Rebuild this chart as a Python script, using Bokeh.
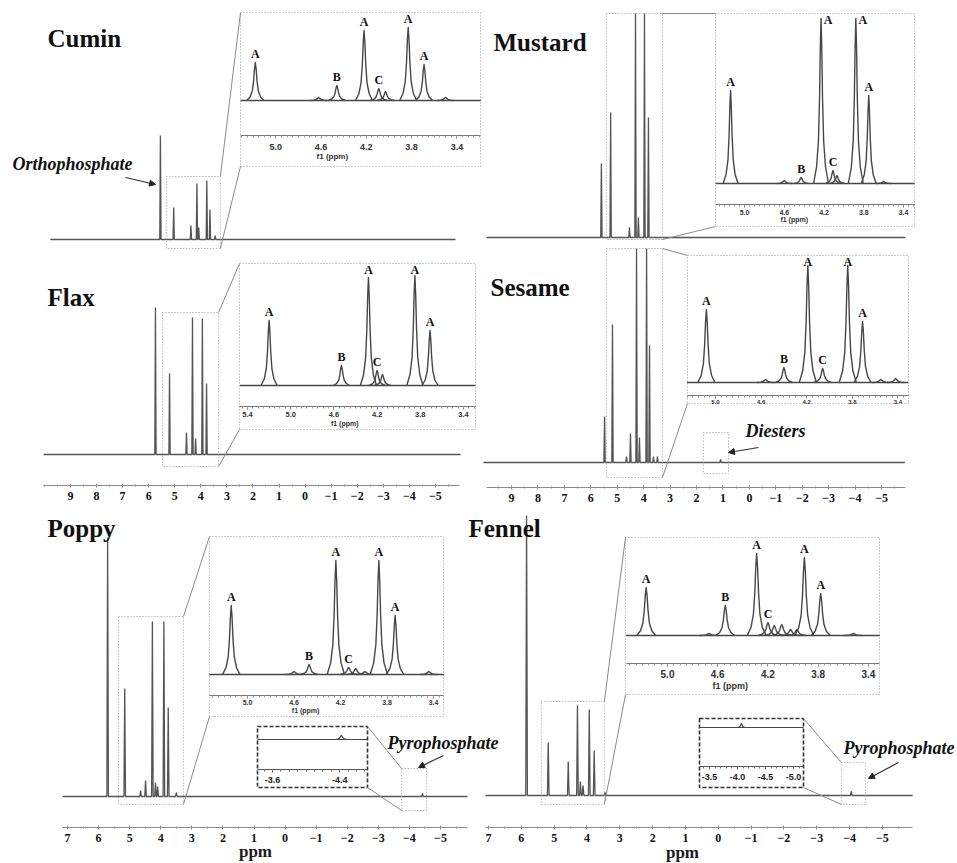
from bokeh.plotting import figure
from bokeh.models import Range1d, LinearAxis, FixedTicker, PrintfTickFormatter, Arrow, NormalHead
from bokeh.core.properties import value
from bokeh.embed import file_html
from bokeh.resources import INLINE

# ------------------------------------------------------------------
# DATA  (31P NMR: chemical shift in ppm, peak intensity in a.u.)
# ------------------------------------------------------------------
samples = ["Cumin", "Mustard", "Flax", "Sesame", "Poppy", "Fennel"]

top_axis_ticks = [9, 8, 7, 6, 5, 4, 3, 2, 1, 0, -1, -2, -3, -4, -5]
bottom_axis_ticks = [7, 6, 5, 4, 3, 2, 1, 0, -1, -2, -3, -4, -5]
inset_ticks = [5.0, 4.6, 4.2, 3.8, 3.4]
flax_inset_ticks = [5.4, 5.0, 4.6, 4.2, 3.8, 3.4]
poppy_pyro_ticks = [-3.6, -4.4]
fennel_pyro_ticks = [-3.5, -4.0, -4.5, -5.0]

# full spectra
cumin_ppm = [5.55, 5.04, 4.38, 4.15, 4.08, 3.77, 3.65, 3.45]
cumin_int = [104, 32, 14, 56, 12, 59, 30, 4]
mustard_ppm = [5.60, 5.25, 4.54, 4.31, 4.20, 3.97, 3.82]
mustard_int = [74, 125, 10, 224, 20, 224, 120]
flax_ppm = [5.74, 5.20, 4.55, 4.32, 4.20, 3.94, 3.78]
flax_int = [147, 81, 22, 137, 16, 136, 71]
sesame_ppm = [5.48, 5.18, 4.65, 4.50, 4.27, 4.16, 3.89, 3.78, 3.63, 3.48, 1.09]
sesame_int = [46, 138, 6, 29, 214, 25, 214, 117, 6, 6, 3]
poppy_ppm = [5.71, 5.16, 4.65, 4.49, 4.27, 4.17, 4.10, 3.90, 3.76, 3.50, -4.42]
poppy_int = [259, 108, 6, 16, 175, 14, 10, 175, 89, 4, 3]
fennel_ppm = [5.84, 5.18, 4.57, 4.29, 4.20, 4.12, 3.93, 3.78, 3.45, -4.05]
fennel_int = [280, 53, 34, 90, 14, 10, 86, 45, 3, 4]

# expanded monoester region (insets)
cumin_in_ppm = [5.18, 4.62, 4.46, 4.22, 4.09, 4.03, 3.83, 3.69, 3.50]
cumin_in_int = [38, 3, 15, 70, 12, 9, 73, 36, 3]
cumin_in_lab = ["A", "", "B", "A", "C", "", "A", "A", ""]
mustard_in_ppm = [5.14, 4.60, 4.43, 4.23, 4.11, 4.07, 3.88, 3.75, 3.60]
mustard_in_int = [93, 3, 6, 165, 13, 8, 165, 88, 2]
mustard_in_lab = ["A", "", "B", "A", "C", "", "A", "A", ""]
flax_in_ppm = [5.20, 4.53, 4.28, 4.20, 4.15, 3.85, 3.71]
flax_in_int = [65, 20, 108, 15, 11, 110, 55]
flax_in_lab = ["A", "B", "A", "C", "", "A", "A"]
sesame_in_ppm = [5.08, 4.56, 4.40, 4.19, 4.06, 3.84, 3.71, 3.55, 3.42]
sesame_in_int = [73, 3, 15, 117, 14, 117, 61, 3, 4]
sesame_in_lab = ["A", "", "B", "A", "C", "A", "A", "", ""]
poppy_in_ppm = [5.14, 4.60, 4.47, 4.24, 4.13, 4.07, 3.99, 3.87, 3.73, 3.44]
poppy_in_int = [69, 3, 10, 114, 7, 6, 3, 114, 59, 3]
poppy_in_lab = ["A", "", "B", "A", "C", "", "", "A", "A", ""]
fennel_in_ppm = [5.17, 4.67, 4.54, 4.29, 4.20, 4.15, 4.09, 4.02, 3.97, 3.91, 3.78, 3.52]
fennel_in_int = [48, 2, 30, 82, 13, 10, 11, 6, 6, 78, 42, 2]
fennel_in_lab = ["A", "", "B", "A", "C", "", "", "", "", "A", "A", ""]

# expanded pyrophosphate region
poppy_pyro_ppm = [-4.42]
poppy_pyro_int = [4]
fennel_pyro_ppm = [-4.07]
fennel_pyro_int = [4]

main_data = {
    "Cumin": (cumin_ppm, cumin_int), "Mustard": (mustard_ppm, mustard_int),
    "Flax": (flax_ppm, flax_int), "Sesame": (sesame_ppm, sesame_int),
    "Poppy": (poppy_ppm, poppy_int), "Fennel": (fennel_ppm, fennel_int),
}
inset_data = {
    "Cumin": (cumin_in_ppm, cumin_in_int, cumin_in_lab),
    "Mustard": (mustard_in_ppm, mustard_in_int, mustard_in_lab),
    "Flax": (flax_in_ppm, flax_in_int, flax_in_lab),
    "Sesame": (sesame_in_ppm, sesame_in_int, sesame_in_lab),
    "Poppy": (poppy_in_ppm, poppy_in_int, poppy_in_lab),
    "Fennel": (fennel_in_ppm, fennel_in_int, fennel_in_lab),
}
pyro_data = {
    "Poppy": (poppy_pyro_ppm, poppy_pyro_int, poppy_pyro_ticks),
    "Fennel": (fennel_pyro_ppm, fennel_pyro_int, fennel_pyro_ticks),
}

# ------------------------------------------------------------------
# LAYOUT (reference-pixel placement of the panels)
# ------------------------------------------------------------------
REF_H = 863
W, H = 956, 862


def Y(row):
    return REF_H - row


MAIN_AXES = {
    "tl": dict(x_at0=304.6, s=26.07, line_y=485, bounds=(10.04, -5.92), ticks=top_axis_ticks),
    "tr": dict(x_at0=748.9, s=26.43, line_y=487, bounds=(9.96, -5.90), ticks=top_axis_ticks),
    "bl": dict(x_at0=284.6, s=31.08, line_y=827, bounds=(7.16, -5.87), ticks=bottom_axis_ticks),
    "br": dict(x_at0=717.8, s=32.83, line_y=827, bounds=(7.09, -5.92), ticks=bottom_axis_ticks),
}
PPM_LABELS = [(255, 851), (682, 852)]

PANELS = {
    "Cumin":   dict(axis="tl", base=239, span=(9.77, -5.77), zoom=(5.32, 3.25, -9, 63), title=(47, 38)),
    "Mustard": dict(axis="tr", base=237, span=(9.95, -5.90), zoom=(5.41, 3.29, -2, 224), title=(493, 42)),
    "Flax":    dict(axis="tl", base=454, span=(10.03, -5.96), zoom=(5.47, 3.32, -12, 142), title=(47, 297)),
    "Sesame":  dict(axis="tr", base=462, span=(10.06, -5.88), zoom=(5.41, 3.29, -15, 214), title=(490, 287)),
    "Poppy":   dict(axis="bl", base=796, span=(7.16, -5.87), zoom=(5.36, 3.27, -8, 180), title=(47, 528)),
    "Fennel":  dict(axis="br", base=795, span=(7.09, -5.92), zoom=(5.39, 3.47, -9, 94), title=(468, 528)),
}

INSETS = {
    "Cumin":   dict(box=(240, 480, 12, 166), base=100, x_at0=841.45, s=113.25, span=(5.31, 3.19),
                    axis_y=135, ticks=inset_ticks, fs="9px", standoff=5, f1=(4.5, 156, "8px"), clamp_dx=0),
    "Mustard": dict(box=(715, 914, 13, 226), base=183, x_at0=1241.0, s=99.4, span=(5.29, 3.29),
                    axis_y=204, ticks=inset_ticks, fs="7px", standoff=2, f1=(4.5, 219, "7px"), clamp_dx=7),
    "Flax":    dict(box=(239, 475, 263, 429), base=385, x_at0=830.2, s=108.0, span=(5.47, 3.29),
                    axis_y=406, ticks=flax_inset_ticks, fs="7.5px", standoff=2, f1=(4.5, 423, "7px"), clamp_dx=0),
    "Sesame":  dict(box=(687, 908, 255, 403), base=382, x_at0=1285.0, s=114.0, span=(5.25, 3.31),
                    axis_y=395, ticks=inset_ticks, fs="6px", standoff=1, f1=None, clamp_dx=0),
    "Poppy":   dict(box=(209, 443, 536, 716), base=674, x_at0=828.25, s=116.25, span=(5.33, 3.31),
                    axis_y=695, ticks=inset_ticks, fs="7px", standoff=1, f1=(4.5, 710, "7px"), clamp_dx=0),
    "Fennel":  dict(box=(625, 879, 537, 694), base=635, x_at0=1295.0, s=125.6, span=(5.33, 3.31),
                    axis_y=663, ticks=inset_ticks, fs="10px", standoff=3, f1=(4.5, 685, "9px"), clamp_dx=0),
}

PYRO = {
    "Poppy":  dict(box=(257, 367, 726, 787), base=739, x_at0=-30.4, s=84.0, span=(-3.42, -4.73),
                   axis_y=769, zoom=(-3.75, -4.55, -14, 28), label=(387, 742), arrow=((443, 755), (418, 767))),
    "Fennel": dict(box=(699, 803, 718, 787), base=727, x_at0=513.0, s=56.0, span=(-3.32, -5.18),
                   axis_y=766, zoom=(-3.75, -4.48, -9, 33), label=(843, 747), arrow=((898, 762), (868, 778))),
}

SESAME_DIESTER_BOX = (1.74, 0.79, -11, 30)
NOTES = [("Orthophosphate", 12, 163, (125, 177), (155, 184)),
         ("Diesters", 745, 430, (758, 447), (728, 452))]

# peak line-shape template (offset in ppm, fraction of height)
SHAPE_DX = [-0.075, -0.045, -0.026, -0.015, -0.0075, 0.0, 0.0075, 0.015, 0.026, 0.045, 0.075]
SHAPE_REL = [0.0, 0.10, 0.26, 0.52, 0.82, 1.0, 0.82, 0.52, 0.26, 0.10, 0.0]
NEEDLE = 0.025
LABEL_PX = 12

SERIF = "Liberation Serif"
SANS = "Liberation Sans"
LINE_MAIN = "#555555"
LINE_INSET = "#474747"
BOX = "#9a9a9a"

# ------------------------------------------------------------------
p = figure(width=W, height=H, x_range=Range1d(0, W), y_range=Range1d(Y(H), Y(0)),
           output_backend="svg", toolbar_location=None, x_axis_location=None,
           y_axis_location=None, min_border=0, outline_line_color=None,
           background_fill_color="white", border_fill_color="white")
p.grid.visible = False


def add_x(name, x_at0, s):
    p.extra_x_ranges[name] = Range1d(start=x_at0 / s, end=(x_at0 - W) / s)


def add_y(name, base_row):
    off = REF_H - base_row
    p.extra_y_ranges[name] = Range1d(start=p.y_range.start - off, end=p.y_range.end - off)


def minor_list(lo, hi, step):
    n0 = int(round(lo / step)) - 1
    n1 = int(round(hi / step)) + 1
    return [round(k * step, 3) for k in range(n0, n1 + 1) if lo <= k * step <= hi]


def needle_trace(ppm, inten, span):
    order = sorted(range(len(ppm)), key=lambda i: -ppm[i])
    xs, ys = [span[0]], [0]
    for i in order:
        xs += [ppm[i] + NEEDLE, ppm[i], ppm[i] - NEEDLE]
        ys += [0, inten[i], 0]
    xs.append(span[1])
    ys.append(0)
    return xs, ys


def draw_peaks(ppm, inten, xr, yr, span, width=1.4):
    p.line([span[0], span[1]], [0, 0], x_range_name=xr, y_range_name=yr,
           line_color=LINE_INSET, line_width=width)
    xs = [[c + d for d in SHAPE_DX] for c in ppm]
    ys = [[h * r for r in SHAPE_REL] for h in inten]
    p.multi_line(xs, ys, x_range_name=xr, y_range_name=yr, line_color=LINE_INSET,
                 line_width=width, line_join="round")


def style_axis(ax, line, minor, font, weight, size, color, standoff, tin, tout, mtin, mtout):
    ax.axis_line_color = line
    ax.major_tick_line_color = line
    ax.minor_tick_line_color = minor
    ax.major_tick_in = tin
    ax.major_tick_out = tout
    ax.minor_tick_in = mtin
    ax.minor_tick_out = mtout
    ax.major_label_text_font = font
    ax.major_label_text_font_style = weight
    ax.major_label_text_font_size = size
    ax.major_label_text_color = color
    ax.major_label_standoff = standoff


# ---- main axes ----
for key, a in MAIN_AXES.items():
    add_x(key, a["x_at0"], a["s"])
    lo, hi = min(a["bounds"]), max(a["bounds"])
    ax = LinearAxis(x_range_name=key, fixed_location=Y(a["line_y"]), bounds=(lo, hi),
                    ticker=FixedTicker(ticks=a["ticks"], minor_ticks=minor_list(lo, hi, 0.5)))
    style_axis(ax, "#8c8c8c", "#8c8c8c", SERIF, "bold", "12px", "#111111", 4, 2, 2, 1, 1)
    p.add_layout(ax, "below")

p.text(x=[x for x, _ in PPM_LABELS], y=[Y(r) for _, r in PPM_LABELS], text=["ppm", "ppm"],
       text_font=value(SERIF), text_font_style="bold", text_font_size="17px",
       text_align="center", text_baseline="middle", text_color="#1a1a1a")

# ---- spectra, zoom boxes, insets ----
for name in samples:
    c = PANELS[name]
    a = MAIN_AXES[c["axis"]]
    yname = name + "_y"
    add_y(yname, c["base"])
    ppm, inten = main_data[name]
    xs, ys = needle_trace(ppm, inten, c["span"])
    p.line(xs, ys, x_range_name=c["axis"], y_range_name=yname, line_color=LINE_MAIN, line_width=1.3)

    z = c["zoom"]
    p.quad(left=[z[0]], right=[z[1]], bottom=[z[2]], top=[z[3]], x_range_name=c["axis"],
           y_range_name=yname, fill_color=None, line_color=BOX, line_width=1, line_dash="1 2")

    p.text(x=[c["title"][0]], y=[Y(c["title"][1])], text=[name], text_font=value(SERIF),
           text_font_style="bold", text_font_size="25px", text_align="left",
           text_baseline="alphabetic", text_color="#111111")

    ins = INSETS[name]
    xr, yr = name + "_ix", name + "_iy"
    add_x(xr, ins["x_at0"], ins["s"])
    add_y(yr, ins["base"])
    bl, br, bt, bb = ins["box"]
    p.quad(left=[bl], right=[br], top=[Y(bt)], bottom=[Y(bb)], fill_color=None,
           line_color=BOX, line_width=1, line_dash="1 2")
    ip, ii, il = inset_data[name]
    draw_peaks(ip, ii, xr, yr, ins["span"])

    lab_x, lab_y, lab_t, lab_dx, lab_dy = [], [], [], [], []
    for x, h, l in zip(ip, ii, il):
        if not l:
            continue
        top_row = ins["base"] - h - 2 - LABEL_PX
        if top_row < bt + 1:
            lab_dy.append(-2 + (bt + 1 - top_row))
            lab_dx.append(ins["clamp_dx"])
        else:
            lab_dy.append(-2)
            lab_dx.append(0)
        lab_x.append(x)
        lab_y.append(h)
        lab_t.append(l)
    p.text(x=lab_x, y=lab_y, text=lab_t, x_offset=lab_dx, y_offset=lab_dy,
           x_range_name=xr, y_range_name=yr,
           text_font=value(SERIF), text_font_style="bold", text_font_size=f"{LABEL_PX}px",
           text_align="center", text_baseline="bottom", text_color="#111111")

    lo, hi = min(ins["span"]), max(ins["span"])
    iax = LinearAxis(x_range_name=xr, fixed_location=Y(ins["axis_y"]), bounds=(lo, hi),
                     ticker=FixedTicker(ticks=ins["ticks"], minor_ticks=minor_list(lo, hi, 0.05)),
                     formatter=PrintfTickFormatter(format="%.1f"))
    style_axis(iax, "#777777", "#999999", SANS, "bold", ins["fs"], "#333333",
               ins["standoff"], 0, 3, 0, 2)
    p.add_layout(iax, "below")
    if ins["f1"] is not None:
        fx, frow, fsz = ins["f1"]
        p.text(x=[fx], y=[Y(frow)], text=["f1 (ppm)"], x_range_name=xr, text_font=value(SANS),
               text_font_style="bold", text_font_size=fsz, text_align="center",
               text_baseline="middle", text_color="#333333")

    zx = a["x_at0"] - a["s"] * z[1]
    zt = c["base"] - z[3]
    zb = c["base"] - z[2]
    p.segment(x0=[zx, zx], y0=[Y(zt), Y(zb)], x1=[bl, bl], y1=[Y(bt), Y(bb)],
              line_color="#8a8a8a", line_width=1)

# ---- pyrophosphate insets ----
for name, q in PYRO.items():
    c = PANELS[name]
    a = MAIN_AXES[c["axis"]]
    yname = name + "_y"
    xr, yr = name + "_px", name + "_py"
    add_x(xr, q["x_at0"], q["s"])
    add_y(yr, q["base"])
    z = q["zoom"]
    p.quad(left=[z[0]], right=[z[1]], bottom=[z[2]], top=[z[3]], x_range_name=c["axis"],
           y_range_name=yname, fill_color=None, line_color=BOX, line_width=1, line_dash="1 2")
    bl, br, bt, bb = q["box"]
    p.quad(left=[bl], right=[br], top=[Y(bt)], bottom=[Y(bb)], fill_color=None,
           line_color="#333333", line_width=1.6, line_dash="4 2")
    pp, pi, pt = pyro_data[name]
    draw_peaks(pp, pi, xr, yr, q["span"], width=1.2)
    lo, hi = min(q["span"]), max(q["span"])
    pax = LinearAxis(x_range_name=xr, fixed_location=Y(q["axis_y"]), bounds=(lo, hi),
                     ticker=FixedTicker(ticks=pt, minor_ticks=minor_list(lo, hi, 0.1)),
                     formatter=PrintfTickFormatter(format="%.1f"))
    style_axis(pax, "#555555", "#777777", SANS, "bold", "9px", "#222222", 4, 0, 3, 0, 2)
    p.add_layout(pax, "below")
    zx = a["x_at0"] - a["s"] * z[0]
    zt = c["base"] - z[3]
    zb = c["base"] - z[2]
    p.segment(x0=[br, br], y0=[Y(bt), Y(bb)], x1=[zx, zx], y1=[Y(zt), Y(zb)],
              line_color="#8a8a8a", line_width=1)
    lx, lrow = q["label"]
    p.text(x=[lx], y=[Y(lrow)], text=["Pyrophosphate"], text_font=value(SERIF),
           text_font_style="bold italic", text_font_size="18px", text_align="left",
           text_baseline="middle", text_color="#111111")
    (x0, r0), (x1, r1) = q["arrow"]
    p.add_layout(Arrow(end=NormalHead(size=6, fill_color="#222222", line_color="#222222"),
                       x_start=x0, y_start=Y(r0), x_end=x1, y_end=Y(r1),
                       line_color="#333333", line_width=1.2))

# diesters box on Sesame
d = SESAME_DIESTER_BOX
p.quad(left=[d[0]], right=[d[1]], bottom=[d[2]], top=[d[3]], x_range_name="tr",
       y_range_name="Sesame_y", fill_color=None, line_color=BOX, line_width=1, line_dash="1 2")

for txt, lx, lrow, (x0, r0), (x1, r1) in NOTES:
    p.text(x=[lx], y=[Y(lrow)], text=[txt], text_font=value(SERIF), text_font_style="bold italic",
           text_font_size="18px", text_align="left", text_baseline="middle", text_color="#111111")
    p.add_layout(Arrow(end=NormalHead(size=6, fill_color="#222222", line_color="#222222"),
                       x_start=x0, y_start=Y(r0), x_end=x1, y_end=Y(r1),
                       line_color="#333333", line_width=1.2))

open("out.html", "w").write(file_html(p, INLINE))
